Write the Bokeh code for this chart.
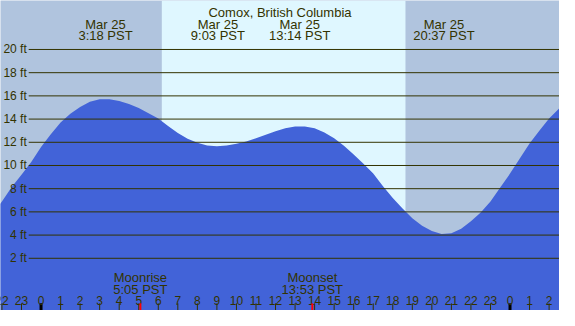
from bokeh.plotting import figure
from bokeh.models import ColumnDataSource
from bokeh.core.properties import value
from bokeh.embed import file_html
from bokeh.resources import INLINE

# ---------------- data ----------------
title = "Comox, British Columbia"

# tide height (ft) at half-hour steps, hours relative to Mar 25 00:00
tide_hours = [-2.5, -2.0, -1.5, -1.0, -0.5, 0.0, 0.5, 1.0, 1.5, 2.0, 2.5, 3.0, 3.5,
              4.0, 4.5, 5.0, 5.5, 6.0, 6.5, 7.0, 7.5, 8.0, 8.5, 9.0, 9.5, 10.0,
              10.5, 11.0, 11.5, 12.0, 12.5, 13.0, 13.5, 14.0, 14.5, 15.0, 15.5,
              16.0, 16.5, 17.0, 17.5, 18.0, 18.5, 19.0, 19.5, 20.0, 20.5, 21.0,
              21.5, 22.0, 22.5, 23.0, 23.5, 24.0, 24.5, 25.0, 25.5, 26.0, 26.5, 27.0]
tide_ft = [5.8, 6.9, 8.15, 9.2, 10.3, 11.6, 12.7, 13.7, 14.45, 15.05, 15.5, 15.72, 15.72,
           15.55, 15.3, 14.95, 14.5, 14.05, 13.4, 12.8, 12.3, 11.95, 11.72, 11.65, 11.72, 11.88,
           12.06, 12.35, 12.65, 12.95, 13.2, 13.35, 13.35, 13.2, 12.85, 12.35, 11.7,
           10.95, 10.15, 9.3, 8.2, 7.2, 6.3, 5.45, 4.8, 4.35, 4.1, 4.15,
           4.55, 5.2, 5.95, 6.9, 8.1, 9.3, 10.6, 11.9, 13.0, 14.05, 14.9, 15.55]

# high / low tide events
event_dates = ["Mar 25", "Mar 25", "Mar 25", "Mar 25"]
event_times = ["3:18", "9:03", "13:14", "20:37"]

# sun (hours)
sunrise_hour = 6.18
sunset_hour = 18.65

# moon
moon_labels = ["Moonrise", "Moonset"]
moon_times = ["5:05", "13:53"]

# axis ticks
ft_levels = [2, 4, 6, 8, 10, 12, 14, 16, 18, 20]
hour_ticks = list(range(-2, 27))


def to_hours(t):
    h, m = t.split(":")
    return int(h) + int(m) / 60.0


# ---------------- layout ----------------
W, H = 559, 310
REF_W, REF_H = 575.0, 326.0
PX_PER_HOUR = 20.1
X0_PX = 41.7          # reference pixel of hour 0
PX_PER_FT = 12.2
Y0_PX = 295.5         # reference pixel of 0 ft

def hx(px):
    return (px - X0_PX) / PX_PER_HOUR

def fy(py):
    return (Y0_PX - py) / PX_PER_FT

xmin, xmax = hx(0), hx(REF_W)
ymin, ymax = fy(REF_H), fy(0)

night = "#B0C4DE"
day = "#DFF7FF"
water = "#4263D8"
ink = "#333300"
FONT = "Liberation Sans"

p = figure(width=W, height=H, x_range=(xmin, xmax), y_range=(ymin, ymax),
           output_backend="svg", toolbar_location=None, min_border=0,
           background_fill_color=night, border_fill_color=night)
p.axis.visible = False
p.grid.visible = False
p.outline_line_color = None

# day band
p.quad(left=[sunrise_hour], right=[sunset_hour], bottom=[ymin], top=[ymax],
       fill_color=day, line_color=None)

# tide
p.varea(x=tide_hours, y1=[ymin - 1] * len(tide_hours), y2=tide_ft,
        fill_color=water)

# horizontal lines
grid_start = hx(29)
p.segment(x0=[grid_start] * len(ft_levels), y0=ft_levels,
          x1=[xmax + 1] * len(ft_levels), y1=ft_levels,
          line_color=ink, line_width=1)
p.text(x=[hx(27)] * len(ft_levels), y=ft_levels,
       text=[f"{v} ft" for v in ft_levels],
       text_align="right", text_baseline="middle",
       text_font=value(FONT), text_font_size="12px", text_color=ink)

# title
p.text(x=[(xmin + xmax) / 2], y=[fy(12.5)], text=[title],
       text_align="center", text_baseline="alphabetic",
       text_font=value(FONT), text_font_size="13px", text_color=ink)

# tide events
ev_x = [to_hours(t) for t in event_times]
p.text(x=ev_x, y=[fy(25)] * 4, text=event_dates,
       text_align="center", text_baseline="alphabetic",
       text_font=value(FONT), text_font_size="13px", text_color=ink)
p.text(x=ev_x, y=[fy(36.5)] * 4, text=[f"{t} PST" for t in event_times],
       text_align="center", text_baseline="alphabetic",
       text_font=value(FONT), text_font_size="13px", text_color=ink)

# hour ticks and labels
normal = [h for h in hour_ticks if h % 24 != 0]
midn = [h for h in hour_ticks if h % 24 == 0]
p.segment(x0=normal, y0=[fy(318.5)] * len(normal), x1=normal, y1=[ymin - 1] * len(normal),
          line_color=ink, line_width=1)
p.segment(x0=midn, y0=[fy(318.5)] * len(midn), x1=midn, y1=[ymin - 1] * len(midn),
          line_color="black", line_width=3)
p.text(x=hour_ticks, y=[fy(316)] * len(hour_ticks),
       text=[str(h % 24) for h in hour_ticks],
       text_align="center", text_baseline="alphabetic",
       text_font=value(FONT), text_font_size="12px", text_color=ink)

# moon
mx = [to_hours(t) for t in moon_times]
p.segment(x0=mx, y0=[fy(318.5)] * 2, x1=mx, y1=[ymin - 1] * 2,
          line_color="red", line_width=2)
p.text(x=mx, y=[fy(291.5)] * 2, text=moon_labels,
       text_align="center", text_baseline="alphabetic",
       text_font=value(FONT), text_font_size="13px", text_color=ink)
p.text(x=mx, y=[fy(303.5)] * 2, text=[f"{t} PST" for t in moon_times],
       text_align="center", text_baseline="alphabetic",
       text_font=value(FONT), text_font_size="13px", text_color=ink)

open("out.html", "w").write(file_html(p, INLINE))
